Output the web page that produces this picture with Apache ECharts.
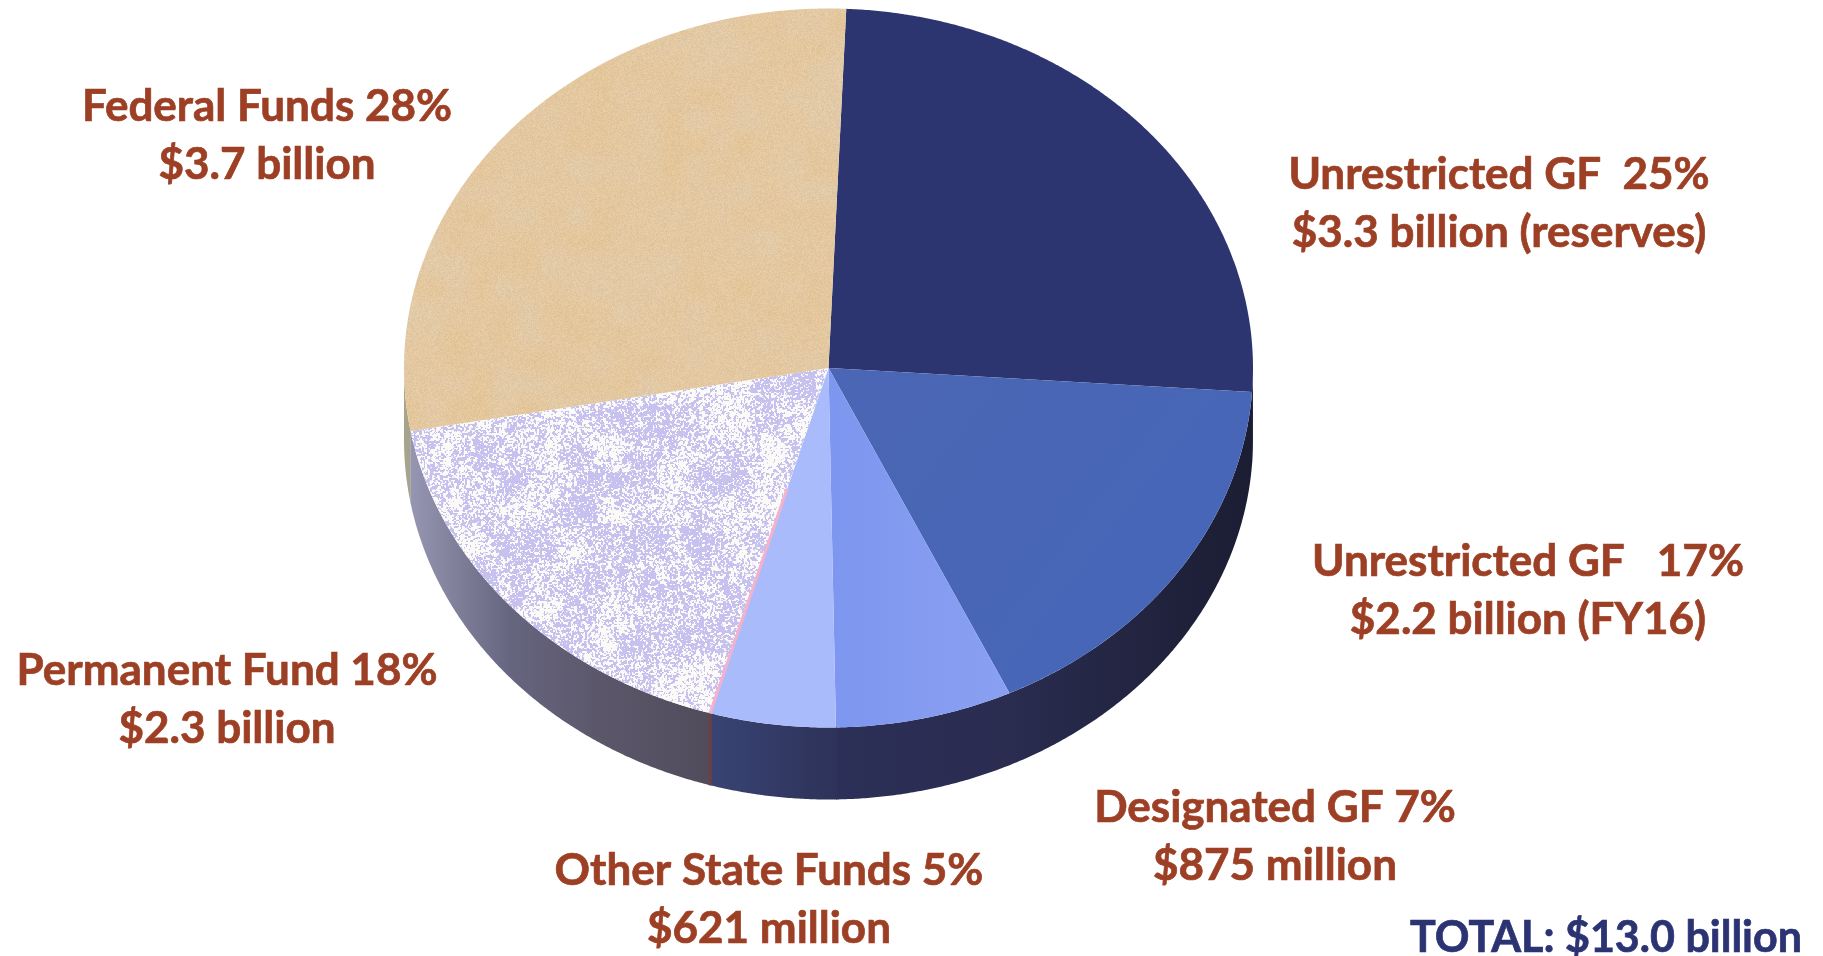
<!DOCTYPE html>
<html>
<head>
<meta charset="utf-8">
<title>Total funding pie</title>
<style>html,body{margin:0;padding:0;background:#fff}#chart{width:1823px;height:956px}</style>
<script src="https://cdn.jsdelivr.net/npm/echarts@6/dist/echarts.min.js"></script>
</head>
<body>
<div id="chart"></div>
<script>
// ---- data ----
var categories = ['Unrestricted GF (reserves)', 'Unrestricted GF (FY16)', 'Designated GF', 'Other State Funds', 'Permanent Fund', 'Federal Funds'];
var amountsBillion = [3.3, 2.2, 0.875, 0.621, 2.3, 3.7];
var labelLine1 = ['Unrestricted GF  25%', 'Unrestricted GF   17%', 'Designated GF 7%', 'Other State Funds 5%', 'Permanent Fund 18%', 'Federal Funds 28%'];
var labelLine2 = ['$3.3 billion (reserves)', '$2.2 billion (FY16)', '$875 million', '$621 million', '$2.3 billion', '$3.7 billion'];
var totalLabel = 'TOTAL: $13.0 billion';

// ---- layout and style ----
var PIE = {cx: 828.5, cy: 368, rx: 424.5, ry: 359.5, depth: 72, startDeg: 2.4};
var labelAnchors = [[1499, 204], [1528, 591], [1275, 837], [769, 900], [227, 700], [267, 136]];
var totalAnchor = [1606, 938];
var LABEL_SIZE = 44, TOTAL_SIZE = 43, LABEL_LINE = 58;
var FONT = 'Lato, "Open Sans", sans-serif';
var TEXT_RED = '#9c3f24', TEXT_BLUE = '#2b3373';

function tileNoise(ix, iy, seed, period) {
  ix = ((ix % period) + period) % period; iy = ((iy % period) + period) % period;
  var s = Math.sin(ix * 127.1 + iy * 311.7 + seed * 74.7) * 43758.5453;
  return s - Math.floor(s);
}
function smooth(x, y, cell, seed, period) {
  var gx = x / cell, gy = y / cell, x0 = Math.floor(gx), y0 = Math.floor(gy);
  var fx = gx - x0, fy = gy - y0;
  fx = fx * fx * (3 - 2 * fx); fy = fy * fy * (3 - 2 * fy);
  var a = tileNoise(x0, y0, seed, period), b = tileNoise(x0 + 1, y0, seed, period);
  var c = tileNoise(x0, y0 + 1, seed, period), d = tileNoise(x0 + 1, y0 + 1, seed, period);
  return (a + (b - a) * fx) * (1 - fy) + (c + (d - c) * fx) * fy;
}
function makeTile(paint) {
  var S = 768, cv = document.createElement('canvas');
  cv.width = cv.height = S;
  var ctx = cv.getContext('2d'), im = ctx.createImageData(S, S), px = im.data;
  for (var y = 0; y < S; y++) for (var x = 0; x < S; x++) {
    var c = paint(x, y), i = (y * S + x) * 4;
    px[i] = c[0]; px[i + 1] = c[1]; px[i + 2] = c[2]; px[i + 3] = 255;
  }
  ctx.putImageData(im, 0, 0);
  return cv;
}
var speckleTile = makeTile(function (x, y) {
  var low = smooth(x, y, 32, 1, 24) * 0.6 + smooth(x, y, 12, 2, 64) * 0.4;
  var fine = smooth(x, y, 1.6, 3, 480) * 0.8 + tileNoise(x, y, 6, 768) * 0.2;
  var t = fine + (low - 0.5) * 0.55;
  if (t > 0.515) return [251, 250, 246];
  if (t > 0.49) return [226, 223, 243];
  return [198, 193, 238];
});
var grainTile = makeTile(function (x, y) {
  var low = smooth(x, y, 24, 4, 32) - 0.5, fine = tileNoise(x, y, 5, 768) - 0.5;
  var d = low * 5 + fine * 14;
  return [227 + d - low * 6, 200 + d, 161 + d + low * 10];
});

var topFills = [
  '#2c3570',
  {type: 'linear', x: 0, y: 0, x2: 1, y2: 1, colorStops: [{offset: 0, color: '#4a66b4'}, {offset: 1, color: '#4766b8'}]},
  {type: 'linear', x: 0, y: 0, x2: 1, y2: 0, colorStops: [{offset: 0, color: '#7d96ef'}, {offset: 1, color: '#8aa0f1'}]},
  '#a9bbfb',
  {image: speckleTile, repeat: 'repeat'},
  {image: grainTile, repeat: 'repeat'}
];
// side wall colours, listed left to right on the page
var rimFills = [
  ['#1c1e36', '#1c1e36'],
  ['#2a2c50', '#1b1d33'],
  ['#2c2f57', '#2a2c50'],
  ['#394474', '#2d3258'],
  ['#9696b2', '#66657f', '#5a5568', '#514c5c'],
  ['#a8a586', '#a2a296']
];

function pt(deg, dy) {
  var a = deg * Math.PI / 180;
  return [PIE.cx + PIE.rx * Math.sin(a), PIE.cy - PIE.ry * Math.cos(a) + (dy || 0)];
}
function arc(a0, a1, dy) {
  var n = Math.max(2, Math.ceil(Math.abs(a1 - a0) * 3)), out = [];
  for (var i = 0; i <= n; i++) out.push(pt(a0 + (a1 - a0) * i / n, dy));
  return out;
}
var totalAmount = amountsBillion.reduce(function (s, v) { return s + v; }, 0);
function spanOf(idx) {
  var before = 0;
  for (var i = 0; i < idx; i++) before += amountsBillion[i];
  var a0 = PIE.startDeg + before / totalAmount * 360;
  return [a0, a0 + amountsBillion[idx] / totalAmount * 360];
}
function renderSlice(params, api) {
  var idx = params.dataIndex;
  api.value(0);
  var sp = spanOf(idx), a0 = sp[0], a1 = sp[1], kids = [];
  // side wall: only the front half of the ellipse is visible
  var r0 = Math.max(a0 - 0.15, 90), r1 = Math.min(a1, 270);
  if (r1 > r0) {
    var top = arc(r0, r1, 0), bot = arc(r1, r0, PIE.depth);
    var xs = top.map(function (p) { return p[0]; });
    var stops = rimFills[idx];
    kids.push({
      type: 'polygon', silent: true,
      shape: {points: top.concat(bot)},
      style: {
        fill: {
          type: 'linear', global: true,
          x: Math.min.apply(null, xs), y: 0, x2: Math.max.apply(null, xs), y2: 0,
          colorStops: stops.map(function (c, i) { return {offset: i / (stops.length - 1), color: c}; })
        }
      }
    });
  }
  kids.push({
    type: 'polygon', silent: true,
    shape: {points: [[PIE.cx, PIE.cy]].concat(arc(a0, a1, 0))},
    style: {fill: topFills[idx]}
  });
  if (categories[idx] === 'Permanent Fund') {
    // pink seam on the shared edge with the Other State Funds slice, brown on the wall
    var e = pt(a0), s = [PIE.cx + (e[0] - PIE.cx) * 0.35, PIE.cy + (e[1] - PIE.cy) * 0.35];
    kids.push({type: 'line', silent: true, shape: {x1: s[0], y1: s[1], x2: e[0], y2: e[1]}, style: {stroke: '#f3b2cc', lineWidth: 3}});
    kids.push({type: 'line', silent: true, shape: {x1: e[0], y1: e[1] + 1, x2: e[0], y2: e[1] + PIE.depth}, style: {stroke: '#6c413f', lineWidth: 3}});
  }
  return {type: 'group', children: kids};
}

var labelGraphics = categories.map(function (c, i) {
  return {
    type: 'text', x: labelAnchors[i][0], y: labelAnchors[i][1], silent: true,
    style: {
      text: labelLine1[i] + '\n' + labelLine2[i], fill: TEXT_RED,
      stroke: TEXT_RED, lineWidth: 0.7,
      font: 'bold ' + LABEL_SIZE + 'px ' + FONT, lineHeight: LABEL_LINE,
      align: 'center', verticalAlign: 'middle'
    }
  };
});
labelGraphics.push({
  type: 'text', x: totalAnchor[0], y: totalAnchor[1], silent: true,
  style: {text: totalLabel, fill: TEXT_BLUE, stroke: TEXT_BLUE, lineWidth: 0.7, font: 'bold ' + TOTAL_SIZE + 'px ' + FONT, align: 'center', verticalAlign: 'middle'}
});

var chart = echarts.init(document.getElementById('chart'), null, {renderer: 'canvas'});
chart.setOption({
  animation: false,
  backgroundColor: '#ffffff',
  tooltip: {show: false},
  graphic: labelGraphics,
  series: [{
    type: 'custom',
    coordinateSystem: 'none',
    renderItem: renderSlice,
    data: amountsBillion.map(function (v, i) { return {name: categories[i], value: [v]}; })
  }]
});
</script>
</body>
</html>
